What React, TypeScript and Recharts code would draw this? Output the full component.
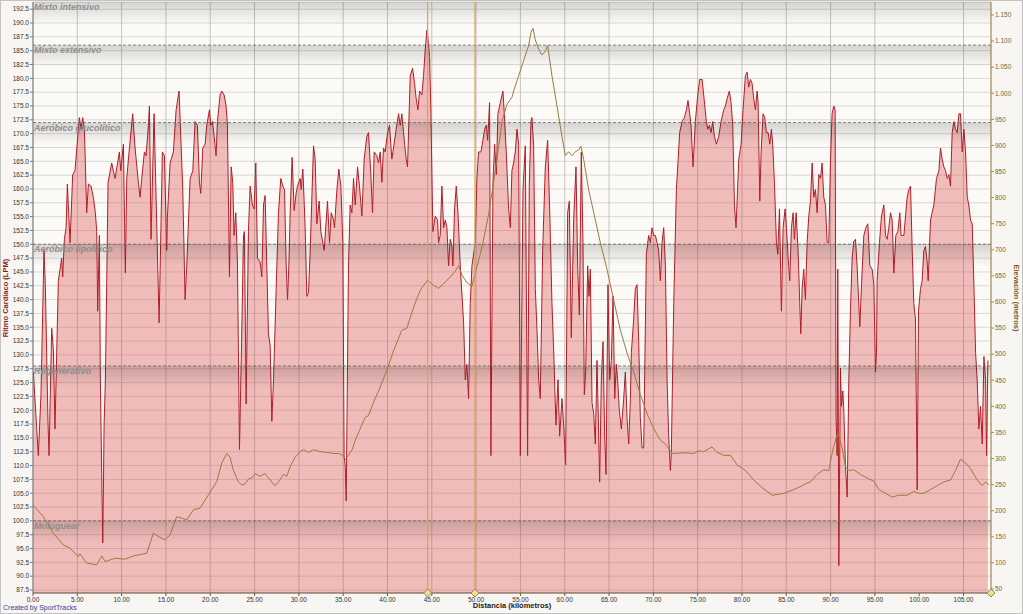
import React from 'react';
import {
  ComposedChart, Area, Line, XAxis, YAxis, CartesianGrid,
  ReferenceArea, ReferenceLine, ReferenceDot,
} from 'recharts';

// ---- Heart rate (km, LPM) ----
const hrSeg1: number[][] = [
  [0.04,126.9],[0.60,111.8],[0.90,122.8],[1.24,148.9],[1.39,142.7],[1.69,118.0],[1.81,111.8],[2.11,134.8],[2.30,131.0],[2.48,116.6],
  [2.86,143.4],[3.24,147.5],[3.35,144.1],[3.54,150.9],[3.73,153.0],[3.88,160.9],[4.18,150.3],[4.48,162.6],[4.74,163.3],[5.23,172.9],
  [5.42,170.8],[5.61,172.9],[5.80,170.8],[6.06,155.7],[6.25,160.9],[6.55,160.5],[6.81,158.5],[7.04,155.7],[7.19,152.3],[7.30,137.9],
  [7.49,151.6],[7.60,125.5],[7.87,96.0],[7.94,105.0],[8.02,117.3],[8.17,125.5],[8.47,161.2],[8.88,164.7],[9.26,161.9],[9.75,166.7],
  [9.90,163.3],[10.20,168.1],[10.42,144.8],[10.58,161.9],[10.84,166.7],[11.25,173.6],[11.52,167.4],[11.89,161.2],[12.08,158.5],[12.27,161.9],
  [12.57,166.7],[12.76,166.0],[13.02,171.5],[13.14,175.0],[13.32,150.9],[13.66,173.6],[14.23,135.8],[14.60,166.7],[14.83,166.0],[15.09,148.9],
  [15.17,155.1],[15.47,164.7],[15.84,166.7],[16.15,174.3],[16.48,177.7],[16.90,159.9],[17.16,140.0],[17.35,146.1],
];
const hrSeg2: number[][] = [
  [17.73,161.9],[18.03,163.3],[18.29,172.2],[18.55,171.5],[18.78,161.2],[18.93,159.2],[19.16,167.4],[19.42,168.1],[19.61,171.5],[19.91,174.3],
  [20.06,171.5],[20.25,172.2],[20.44,169.5],[20.66,166.0],[20.81,172.2],[21.11,177.0],[21.30,177.7],[21.56,177.0],[21.79,175.0],[21.94,171.5],
  [22.17,144.1],[22.36,164.0],[22.54,161.2],[22.69,151.6],[22.88,155.7],[23.07,146.8],[23.30,112.9],[23.56,134.5],[23.75,151.6],[23.86,152.3],
  [24.05,121.1],[24.31,152.3],[24.50,160.5],[24.76,157.1],[24.95,156.4],[25.14,164.7],[25.33,147.5],[25.63,146.8],[25.82,144.1],[26.01,157.1],
  [26.19,158.8],[26.57,133.8],[26.76,131.7],[26.95,118.0],[27.14,125.5],[27.44,142.0],[27.70,155.7],[27.96,161.9],[28.19,160.5],[28.38,159.9],
  [28.57,146.1],[28.72,140.0],[28.87,146.1],[29.02,155.7],[29.24,165.7],[29.47,156.1],[29.69,159.2],[29.84,160.5],[30.15,161.9],[30.26,159.9],
  [30.45,163.6],[30.71,153.0],[30.90,140.6],[31.09,141.3],[31.28,148.9],[31.65,167.8],[31.84,165.4],[32.03,153.7],[32.29,157.8],[32.48,152.3],
  [32.86,148.9],[33.23,157.8],[33.46,150.3],[33.65,155.7],[33.91,154.4],[34.02,153.0],[34.29,159.9],[34.51,163.6],[34.74,160.5],[34.96,150.3],
  [35.11,111.8],[35.23,109.8],[35.34,103.6],[35.60,146.1],[35.79,157.1],
];
const hrSeg3: number[][] = [
  [35.98,155.7],[36.17,161.9],[36.36,157.1],[36.62,164.0],[36.84,160.5],[37.11,155.1],[37.37,165.4],[37.67,169.5],[37.86,170.2],[38.12,162.6],
  [38.31,155.7],[38.50,166.7],[38.80,166.0],[38.99,164.7],[39.18,166.7],[39.37,161.2],[39.55,167.4],[39.74,166.7],[40.01,170.2],[40.23,171.5],
  [40.49,165.4],[40.68,167.4],[40.98,170.8],[41.25,173.6],[41.44,171.5],[41.62,173.6],[41.81,170.2],[42.11,165.4],[42.26,164.0],[42.57,180.5],
  [42.83,181.8],[43.05,179.1],[43.24,176.3],[43.43,174.3],[43.62,177.7],[43.88,177.0],[44.07,180.5],[44.26,185.3],[44.45,188.7],[44.56,187.3],
  [44.75,183.9],[44.90,173.6],[45.12,152.3],[45.39,155.1],[45.65,154.4],[45.76,150.3],[45.95,151.6],[46.14,160.5],[46.33,153.0],[46.52,154.4],
  [46.71,153.0],[46.89,146.1],[47.08,150.9],[47.27,149.6],[47.38,146.1],[47.57,156.4],[47.76,160.5],[47.95,155.7],[48.21,146.1],[48.59,135.8],
  [48.78,125.5],[48.96,128.3],[49.15,122.1],[49.34,139.3],[49.53,146.1],[49.90,150.3],[50.09,161.9],[50.28,166.7],[50.54,166.7],[50.77,168.8],
  [50.96,170.8],[51.15,171.5],[51.30,168.8],[51.52,175.6],[51.67,111.8],[51.90,161.2],[52.09,168.1],[52.28,162.6],[52.46,173.6],[52.73,175.6],
  [53.03,177.7],[53.18,173.6],[53.40,166.7],[53.67,156.4],[53.86,153.0],
];
const hrSeg4: number[][] = [
  [54.04,163.3],[54.23,164.7],[54.42,166.7],[54.61,170.8],[54.80,168.1],[54.99,111.8],[55.29,159.9],[55.55,167.8],[55.81,111.8],[56.00,160.5],
  [56.19,172.2],[56.30,172.9],[56.49,168.1],[56.68,142.0],[56.87,134.5],[57.06,125.5],[57.24,122.1],[57.51,148.9],[57.81,164.0],[58.07,168.8],
  [58.30,156.4],[58.56,139.3],[58.75,131.0],[59.01,117.3],[59.24,125.5],[59.43,115.3],[59.69,122.1],[59.88,117.3],[60.10,110.1],[60.33,155.7],
  [60.52,157.8],[60.74,133.1],[61.01,154.4],[61.27,164.0],[61.46,146.1],[61.65,137.2],[61.87,166.7],[62.06,150.3],[62.21,122.8],[62.36,126.9],
  [62.59,146.1],[62.74,140.6],[62.89,145.5],[63.08,121.4],[63.27,119.4],[63.45,113.9],[63.64,129.0],[63.79,118.7],[63.94,107.0],[64.13,125.5],
  [64.32,132.4],[64.51,115.3],[64.66,108.4],[64.88,142.7],[65.07,125.5],[65.26,129.0],[65.45,140.6],[65.64,122.1],[65.82,128.3],[65.97,125.5],
  [66.16,120.0],[66.39,116.6],[66.65,122.1],[66.84,126.9],[67.03,118.7],[67.22,113.9],[67.41,122.1],[67.52,130.4],[67.78,136.5],[67.97,142.0],
  [68.16,142.7],[68.35,132.4],[68.53,118.7],[68.72,113.2],[68.91,113.2],[69.21,148.2],[69.47,151.6],[69.66,150.3],[69.85,153.0],[70.04,151.6],
  [70.23,151.6],[70.42,150.3],[70.60,148.9],[70.79,143.4],[70.98,150.3],[71.17,153.0],[71.36,146.1],[71.55,125.5],[71.73,115.3],[71.92,109.1],
];
const hrSeg5: number[][] = [
  [72.03,112.5],[72.30,139.3],[72.60,159.9],[72.97,170.2],[73.24,172.2],[73.50,172.9],[73.73,174.3],[73.91,176.0],[74.10,173.6],[74.25,171.5],
  [74.48,164.0],[74.74,172.2],[75.01,177.0],[75.23,179.8],[75.50,179.8],[75.68,177.0],[75.98,172.2],[76.14,170.8],[76.32,171.5],[76.51,170.2],
  [76.70,172.2],[76.89,169.5],[77.11,168.1],[77.38,169.5],[77.64,172.2],[77.94,174.3],[78.13,175.0],[78.32,176.3],[78.58,177.7],[78.77,175.6],
  [78.96,171.5],[79.15,157.1],[79.33,153.0],[79.64,165.4],[79.90,168.1],[80.12,174.3],[80.39,180.5],[80.58,181.1],[80.76,178.4],[80.95,179.8],
  [81.14,179.1],[81.33,176.3],[81.52,174.3],[81.71,177.7],[81.82,175.6],[82.01,157.8],[82.16,166.7],[82.38,173.6],[82.57,172.9],[82.76,170.2],
  [82.95,170.2],[83.14,168.1],[83.32,170.8],[83.47,168.1],[83.66,161.2],[83.89,150.3],[84.04,148.2],[84.23,156.4],[84.45,137.9],[84.64,153.0],
  [84.87,156.4],[85.02,153.0],[85.21,147.5],[85.39,143.4],[85.58,153.0],[85.77,155.7],[85.92,150.9],[86.11,155.7],[86.33,148.9],[86.52,139.3],
  [86.64,133.8],[86.79,142.0],[86.97,145.5],[87.16,140.0],[87.35,150.3],[87.54,155.1],[87.73,157.8],[87.92,164.7],[88.10,158.5],[88.29,159.9],
  [88.48,155.7],[88.67,162.6],[88.86,161.9],[89.04,164.7],[89.23,158.5],[89.42,157.1],[89.61,150.3],[89.80,150.3],[89.99,165.4],
];
const hrSeg6: number[][] = [
  [90.17,173.6],[90.36,175.0],[90.51,174.3],[90.62,118.7],[90.74,111.8],[90.81,145.5],[90.93,91.9],[91.11,127.6],[91.23,120.7],[91.38,123.5],
  [91.49,120.0],[91.68,109.8],[91.87,104.3],[92.06,125.5],[92.24,137.9],[92.43,147.5],[92.62,150.6],[92.81,150.9],[92.99,146.1],[93.30,135.1],
  [93.49,142.7],[93.75,151.6],[93.98,153.0],[94.20,153.7],[94.43,146.1],[94.69,145.5],[94.88,142.7],[95.07,126.9],[95.18,130.4],[95.25,143.4],
  [95.52,150.3],[95.74,155.1],[96.01,157.1],[96.20,151.6],[96.38,150.9],[96.57,153.0],[96.76,155.7],[96.95,154.4],[97.14,144.8],[97.36,151.6],
  [97.59,152.3],[97.81,155.7],[97.96,151.6],[98.27,151.6],[98.49,155.7],[98.64,158.5],[98.83,159.9],[99.02,160.5],[99.21,148.9],[99.39,139.3],
  [99.58,136.5],[99.77,105.6],[99.92,137.9],[100.15,142.0],[100.33,143.4],[100.52,148.9],[100.71,149.6],[100.90,146.8],[101.01,143.4],[101.28,154.4],
  [101.46,155.7],[101.65,157.1],[101.95,161.9],[102.22,163.3],[102.40,167.4],[102.59,165.4],[102.78,164.0],[102.97,163.3],[103.16,161.9],[103.35,162.6],
  [103.53,160.5],[103.72,170.2],[103.91,172.2],[104.10,170.8],[104.29,170.2],[104.48,173.6],[104.66,173.6],[104.85,166.7],[105.04,170.8],[105.23,166.7],
  [105.42,158.5],[105.60,157.1],[105.79,154.4],[105.98,153.7],[106.17,142.7],[106.36,130.4],[106.54,125.5],[106.73,116.6],[106.92,120.7],[107.11,113.9],
  [107.30,129.7],[107.49,125.5],[107.60,111.8],[107.75,129.0],
];

// ---- Elevation (km, metros) ----
const elevSeg1: number[][] = [
  [0.00,211.2],[1.16,188.7],[2.29,156.9],[3.42,134.5],[4.18,128.2],[5.11,112.1],[5.31,117.3],[6.06,99.5],[7.19,96.2],[7.76,113.4],
  [8.13,102.5],[9.26,109.0],[10.39,107.1],[11.32,113.4],[12.84,118.6],[13.58,156.9],[14.15,150.4],[14.90,144.1],[15.46,153.7],[16.22,188.7],
  [16.79,185.6],[17.35,182.4],[18.10,201.6],[18.85,204.8],[19.79,230.3],[20.74,255.8],
];
const elevSeg2: number[][] = [
  [21.30,291.5],[21.87,309.7],[22.24,302.4],[22.62,277.0],[23.18,255.2],[23.56,249.4],[23.94,251.5],[24.31,261.0],[24.69,262.4],[25.07,271.1],
  [25.63,266.0],[26.19,271.1],[26.76,258.8],[27.32,247.9],[27.70,255.2],[28.26,269.7],[28.64,266.0],[29.02,284.2],[29.58,302.4],[30.15,313.3],
  [30.52,317.0],[31.09,311.9],[31.65,317.0],[32.40,313.3],[33.16,311.9],[33.91,309.7],[34.47,309.7],[34.96,306.1],[35.23,298.8],[35.60,306.1],
  [36.02,317.0],
];
const elevSeg3: number[][] = [
  [36.36,335.1],[36.92,357.0],[37.48,378.8],[37.86,382.4],[38.43,407.9],[39.18,436.9],[39.93,469.7],[40.68,506.0],[41.62,546.0],[42.19,549.7],
  [42.94,589.7],[43.69,622.4],[44.52,642.0],[45.20,631.8],[45.76,626.0],[46.33,634.8],[47.08,647.8],[47.65,658.8],[48.02,669.7],[48.40,651.5],
  [48.96,637.0],[49.53,629.7],[49.90,655.1],[50.47,691.5],[50.85,720.6],[51.41,767.8],[51.97,829.6],[52.35,873.3],[52.92,946.0],[53.48,978.7],
  [54.08,993.3],
];
const elevSeg4: number[][] = [
  [54.23,1004.2],[54.80,1033.3],[55.36,1062.3],[55.93,1091.4],[56.19,1116.9],[56.42,1124.2],[56.68,1102.3],[57.06,1084.2],[57.43,1073.3],[57.81,1080.5],
  [58.07,1091.4],[58.56,1033.3],[59.13,975.1],[59.69,916.9],[60.07,880.5],[60.44,887.8],[60.82,880.5],[61.19,887.8],[61.57,891.4],[61.83,898.7],
  [62.14,873.3],[62.70,815.1],[63.27,771.5],[64.02,713.3],[64.77,662.4],[65.52,604.2],[66.28,546.0],[67.03,502.4],[67.78,466.0],[68.53,422.4],
  [69.29,386.1],[70.04,357.0],[70.79,335.2],[71.36,327.9],[72.15,309.7],
];
const elevSeg5: number[][] = [
  [72.48,309.7],[73.43,311.2],[74.55,309.7],[75.12,314.8],[75.68,313.3],[76.06,317.0],[76.62,322.1],[77.19,311.9],[77.94,306.1],[78.69,306.1],
  [79.45,287.9],[80.39,277.0],[81.33,258.8],[82.27,244.2],[83.40,229.7],[84.72,233.3],[85.85,240.6],[86.79,247.9],[87.16,251.5],[87.73,255.2],
  [88.48,269.7],[89.23,278.4],[89.80,277.0],
];
const elevSeg6: number[][] = [
  [89.99,295.2],[90.36,324.3],[90.81,349.7],[91.30,320.6],[91.68,284.2],[92.06,277.0],[92.62,278.4],[93.37,269.7],[94.13,262.4],[94.88,256.6],
  [95.44,240.6],[96.20,233.3],[96.95,226.1],[97.70,229.7],[98.64,229.7],[99.39,237.0],[99.96,233.3],[100.52,233.3],[101.28,240.6],[102.03,247.9],
  [102.78,255.2],[103.53,258.8],[104.10,277.0],[104.66,298.8],[105.23,291.5],[105.79,280.6],[106.54,258.8],[107.11,247.9],[107.49,255.2],[107.86,249.4],
];

// ---- Axes / zones ----
const xTicks = [0,5,10,15,20,25,30,35,40,45,50,55,60,65,70,75,80,85,90,95,100,105];
const hrTicks = [87.5,90,92.5,95,97.5,100,102.5,105,107.5,110,112.5,115,117.5,120,122.5,125,127.5,130,132.5,135,137.5,140,142.5,145,147.5,150,152.5,155,157.5,160,162.5,165,167.5,170,172.5,175,177.5,180,182.5,185,187.5,190,192.5];
const elevTicks = [50,100,150,200,250,300,350,400,450,500,550,600,650,700,750,800,850,900,950,1000,1050,1100,1150];
const zoneNames = ['Mixto intensivo','Mixto extensivo','Aeróbico glucolítico','Aeróbico lipolítico','Regenerativo','Moluguear'];
const zoneTops = [193.8,186,172,150,128,100];
const markerKms = [44.53,49.87];

const HR_MIN = 86.96, HR_MAX = 193.8;
const EL_MIN = 42.3, EL_MAX = 1174.8;
const X_MAX = 108.1;

const hrData = [...hrSeg1, ...hrSeg2, ...hrSeg3, ...hrSeg4, ...hrSeg5, ...hrSeg6].map(([km, hr]) => ({ km, hr }));
const elevData = [...elevSeg1, ...elevSeg2, ...elevSeg3, ...elevSeg4, ...elevSeg5, ...elevSeg6].map(([km, elev]) => ({ km, elev }));

const FONT = "'Liberation Sans', Arial, sans-serif";

const fmtElev = (v: number) => (v >= 1000 ? `${Math.floor(v / 1000)}.${String(v % 1000).padStart(3, '0')}` : String(v));

const Diamond = (p: any) => {
  const { cx, cy } = p;
  if (cx == null || cy == null) return null;
  return (
    <path d={`M${cx},${cy - 4} L${cx + 4},${cy} L${cx},${cy + 4} L${cx - 4},${cy} Z`} fill="#e9dc9c" stroke="#9c8a3c" strokeWidth={1} />
  );
};

export default function App() {
  return (
    <div style={{ position: 'absolute', left: 0, top: 0, width: 1023, height: 614, background: '#f7f6f2', overflow: 'hidden', fontFamily: FONT }}>
      <ComposedChart width={1023} height={614} margin={{ top: 2, right: 0, bottom: 0, left: 1 }}>
        <defs>
          <linearGradient id="bandGrad" x1="0" y1="0" x2="0" y2="1">
            <stop offset="0%" stopColor="#000" stopOpacity={0.15} />
            <stop offset="40%" stopColor="#000" stopOpacity={0.09} />
            <stop offset="100%" stopColor="#000" stopOpacity={0} />
          </linearGradient>
        </defs>
        <CartesianGrid yAxisId="hr" vertical={false} stroke="#d9d8d4" fill="#fbfaf7" />
        <CartesianGrid yAxisId="hr" horizontal={false} stroke="#c4c3bf" />
        <XAxis
          dataKey="km" type="number" domain={[0, X_MAX]} ticks={xTicks} allowDataOverflow
          height={21} tickFormatter={(v: number) => v.toFixed(2)}
          tick={{ fontSize: 6.5, fill: '#333', fontFamily: FONT }} tickSize={3} tickMargin={1}
          stroke="#6e5444"
          label={(props: any) => {
            const vb = props.viewBox || {};
            return (
              <text x={(vb.x ?? 33) + (vb.width ?? 958) / 2} y={608} textAnchor="middle" fontSize={7.5} fontWeight="bold" fill="#222" fontFamily={FONT}>
                Distancia (kilómetros)
              </text>
            );
          }}
        />
        <YAxis
          yAxisId="hr" orientation="left" width={32} domain={[HR_MIN, HR_MAX]} ticks={hrTicks} allowDataOverflow
          tickFormatter={(v: number) => v.toFixed(1)} interval={0}
          tick={{ fontSize: 6.5, fill: '#333', fontFamily: FONT }} tickSize={3} tickMargin={1}
          stroke="#7a7a7a"
          label={(props: any) => (
            <text x={8} y={298} transform="rotate(-90 8 298)" textAnchor="middle" fontSize={7.5} fontWeight="bold" fill="#8b1c1c" fontFamily={FONT}>
              Ritmo Cardíaco (LPM)
            </text>
          )}
        />
        <YAxis
          yAxisId="el" orientation="right" width={32} domain={[EL_MIN, EL_MAX]} ticks={elevTicks} allowDataOverflow
          tickFormatter={fmtElev} interval={0}
          tick={{ fontSize: 6.5, fill: '#7d6530', fontFamily: FONT }} tickSize={3} tickMargin={1}
          stroke="#a88a4a"
          label={(props: any) => (
            <text x={1014} y={298} transform="rotate(90 1014 298)" textAnchor="middle" fontSize={7.5} fontWeight="bold" fill="#7d6020" fontFamily={FONT}>
              Elevación (metros)
            </text>
          )}
        />
        <Area
          yAxisId="hr" data={hrData} dataKey="hr" type="linear" isAnimationActive={false}
          stroke="#b01e28" strokeWidth={1} fill="#d83030" fillOpacity={0.3} dot={false} activeDot={false}
        />
        <Line
          yAxisId="el" data={elevData} dataKey="elev" type="linear" isAnimationActive={false}
          stroke="#9a7b3c" strokeWidth={1} dot={false} activeDot={false}
        />
        {zoneTops.map((top, i) => (
          <ReferenceArea
            key={`band-${i}`} yAxisId="hr" y1={top - 4} y2={top} ifOverflow="visible"
            fill="url(#bandGrad)" fillOpacity={1} stroke="none"
            label={(props: any) => {
              const vb = props.viewBox || {};
              return (
                <text x={(vb.x ?? 33) + 1} y={(vb.y ?? 0) + 8} fontSize={9} fontStyle="italic" fontWeight="bold" fill="#8e8e8e" fontFamily={FONT}>
                  {zoneNames[i]}
                </text>
              );
            }}
          />
        ))}
        {zoneTops.slice(1).map((top, i) => (
          <ReferenceLine key={`zl-${i}`} yAxisId="hr" y={top} stroke="#6a6a6a" strokeDasharray="3 2" strokeWidth={1} strokeOpacity={0.85} />
        ))}
        {markerKms.map((km, i) => (
          <ReferenceLine key={`mk-${i}`} yAxisId="hr" x={km} stroke="#d2a45c" strokeWidth={1.2} />
        ))}
        {markerKms.map((km, i) => (
          <ReferenceDot key={`md-${i}`} yAxisId="hr" x={km} y={HR_MIN} ifOverflow="visible" shape={Diamond} />
        ))}
        <ReferenceDot yAxisId="hr" x={X_MAX} y={HR_MIN} ifOverflow="visible" shape={Diamond} />
      </ComposedChart>
      <div style={{ position: 'absolute', left: 3, top: 604, fontSize: 7, color: '#2c3fa0', fontFamily: FONT, whiteSpace: 'nowrap' }}>
        Created by SportTracks
      </div>
      <div style={{ position: 'absolute', left: 0, top: 0, width: 1023, height: 614, boxSizing: 'border-box', border: '1px solid #c2c2c2', pointerEvents: 'none' }} />
    </div>
  );
}
